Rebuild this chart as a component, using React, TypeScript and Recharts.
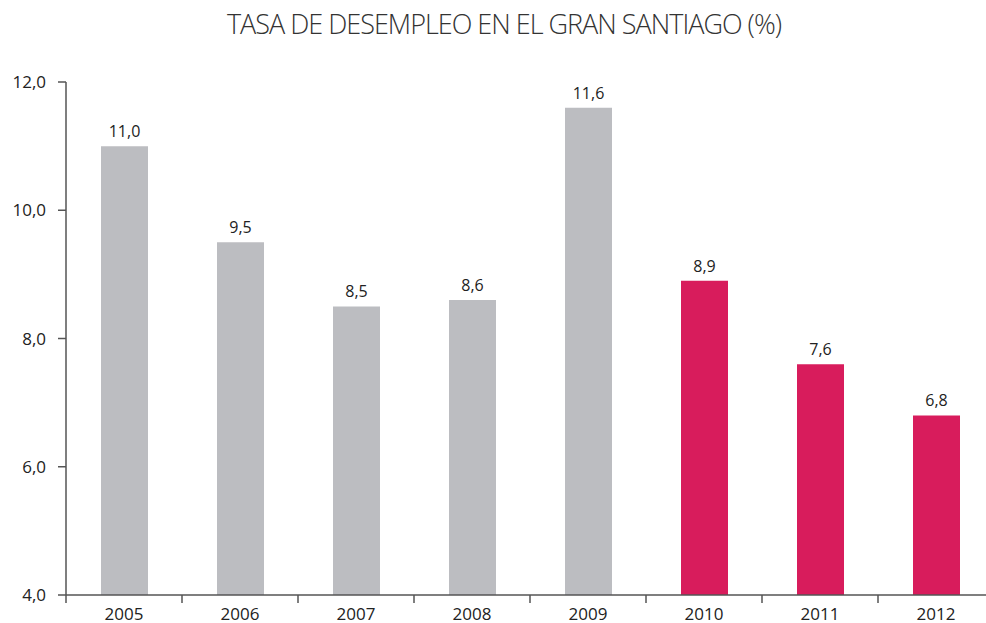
import React from 'react';
import { Bar, BarChart, Cell, LabelList, XAxis, YAxis } from 'recharts';

const years = ['2005', '2006', '2007', '2008', '2009', '2010', '2011', '2012'];
const rates = [11.0, 9.5, 8.5, 8.6, 11.6, 8.9, 7.6, 6.8];
const yTicks = [4, 6, 8, 10, 12];
const highlightFrom = '2010';

const W = 986;
const H = 623;
const LEFT = 66;
const BAND = 116;
const CHART_W = LEFT + BAND * years.length; // plot runs a bit past the page edge
const FONT = '"Open Sans", sans-serif';
const AXIS = '#555555';
const GRAY = '#bcbdc1';
const PINK = '#d81c5c';

const data = years.map((year, i) => ({ year, rate: rates[i] }));

const fmt = (v: number) => v.toFixed(1).replace('.', ',');

const XTick = (props: any) => {
  const { x, y, payload } = props;
  const left = x - BAND / 2;
  return (
    <g>
      <line x1={left} x2={left} y1={y - 10} y2={y - 2} stroke={AXIS} strokeWidth={1.5} />
      <text x={x} y={y + 15} textAnchor="middle" fill="#222" fontSize={17} fontFamily={FONT}>
        {payload.value}
      </text>
    </g>
  );
};

export default function App() {
  return (
    <div style={{ position: 'absolute', left: 0, top: 0, width: W, height: H, overflow: 'hidden', background: '#fff' }}>
      <div
        style={{
          position: 'absolute',
          top: 5,
          left: 0,
          width: 1008,
          textAlign: 'center',
          fontFamily: FONT,
          fontWeight: 300,
          fontSize: 27,
          color: '#333',
          letterSpacing: -1,
          whiteSpace: 'nowrap',
        }}
      >
        TASA DE DESEMPLEO EN EL GRAN SANTIAGO (%)
      </div>
      <BarChart width={CHART_W} height={H} data={data} margin={{ top: 82, right: 0, left: 0, bottom: 0 }} barCategoryGap={0}>
        <XAxis
          dataKey="year"
          height={28}
          axisLine={{ stroke: AXIS, strokeWidth: 1.5 }}
          tickLine={false}
          tickSize={8}
          tick={<XTick />}
          interval={0}
        />
        <YAxis
          width={LEFT}
          domain={[4, 12]}
          ticks={yTicks}
          tickFormatter={fmt}
          axisLine={{ stroke: AXIS, strokeWidth: 1.5 }}
          tickLine={{ stroke: AXIS, strokeWidth: 1.5 }}
          tickSize={8}
          tickMargin={12}
          tick={{ fill: '#222', fontSize: 17, fontFamily: FONT }}
        />
        <Bar dataKey="rate" barSize={47} isAnimationActive={false}>
          {data.map((d) => (
            <Cell key={d.year} fill={d.year >= highlightFrom ? PINK : GRAY} />
          ))}
          <LabelList
            dataKey="rate"
            position="top"
            offset={9}
            formatter={(v: any) => fmt(Number(v))}
            style={{ fill: '#222', fontSize: 16, fontFamily: FONT }}
          />
        </Bar>
      </BarChart>
    </div>
  );
}
